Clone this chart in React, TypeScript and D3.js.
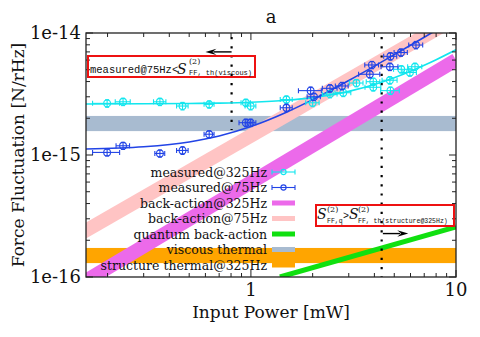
import React from 'react'
import * as d3 from 'd3'

const W = 480
const H = 337
const plot = { left: 86, right: 456, top: 33, bottom: 277 }

// measured @ 75 Hz (blue)
const power75 = [0.199, 0.238, 0.36, 0.464, 0.626, 0.945, 0.997, 1.49, 1.955, 2.03, 2.43, 2.78, 3.8, 3.89, 4.76, 4.79, 5.39, 6.38]
const force75 = [1.05e-15, 1.19e-15, 1.03e-15, 1.09e-15, 1.48e-15, 1.84e-15, 1.84e-15, 2.44e-15, 3.37e-15, 3.0e-15, 3.52e-15, 3.68e-15, 4.59e-15, 5.47e-15, 5.29e-15, 6.44e-15, 6.92e-15, 7.97e-15]
const powerErr75 = [0.03, 0.018, 0.02, 0.03, 0.035, 0.07, 0.06, 0.1, 0.25, 0.15, 0.2, 0.2, 0.45, 0.3, 0.45, 0.35, 0.4, 0.5]
const forceErr75 = [0.07e-15, 0.08e-15, 0.07e-15, 0.08e-15, 0.1e-15, 0.13e-15, 0.13e-15, 0.17e-15, 0.24e-15, 0.21e-15, 0.25e-15, 0.26e-15, 0.32e-15, 0.38e-15, 0.37e-15, 0.45e-15, 0.48e-15, 0.56e-15]

// measured @ 325 Hz (cyan)
const power325 = [0.199, 0.238, 0.36, 0.464, 0.626, 0.945, 0.997, 1.49, 2.0, 2.43, 2.82, 3.27, 3.95, 3.95, 4.76, 4.79, 5.41, 5.96, 6.31]
const force325 = [2.65e-15, 2.73e-15, 2.73e-15, 2.52e-15, 2.6e-15, 2.68e-15, 2.52e-15, 2.85e-15, 2.68e-15, 3.16e-15, 3.24e-15, 3.89e-15, 3.99e-15, 3.59e-15, 4.1e-15, 3.37e-15, 5.04e-15, 4.75e-15, 5.29e-15]
const powerErr325 = [0.03, 0.02, 0.025, 0.03, 0.035, 0.05, 0.06, 0.1, 0.15, 0.2, 0.25, 0.25, 0.3, 0.35, 0.4, 0.5, 0.45, 0.45, 0.5]
const forceErr325 = [0.19e-15, 0.19e-15, 0.19e-15, 0.18e-15, 0.18e-15, 0.19e-15, 0.18e-15, 0.2e-15, 0.19e-15, 0.22e-15, 0.23e-15, 0.27e-15, 0.28e-15, 0.25e-15, 0.29e-15, 0.24e-15, 0.35e-15, 0.33e-15, 0.37e-15]

// fitted curves
const fitPower = [0.157, 0.3, 0.5, 0.7, 1, 1.5, 2, 3, 4, 5, 6, 7, 8, 10]
const fit325 = [2.622e-15, 2.628e-15, 2.642e-15, 2.663e-15, 2.707e-15, 2.811e-15, 2.952e-15, 3.321e-15, 3.777e-15, 4.292e-15, 4.849e-15, 5.434e-15, 6.038e-15, 7.287e-15]
const fit75 = [1.119e-15, 1.168e-15, 1.28e-15, 1.432e-15, 1.711e-15, 2.252e-15, 2.842e-15, 4.081e-15, 5.354e-15, 6.642e-15, 7.937e-15, 9.236e-15, 10.54e-15, 13.15e-15]

// model lines and bands
const backActionPower = [0.15, 10]
const backAction325 = [0.89e-16, 6.0e-15]
const backAction75 = [2.3e-16, 1.33e-14]
const quantumPower = [1.385, 10]
const quantumBA = [1.0e-16, 2.57e-16]
const viscousBand = [1.57e-15, 2.09e-15]
const structureBand = [1.3e-16, 1.73e-16]

// threshold markers
const thresholdPower = [0.805, 4.34]
const thresholdTop = [1e-14, 1e-14]
const thresholdBottom = [1.6e-15, 1e-16]
const arrowFrom = [0.805, 4.4]
const arrowTo = [0.6, 5.85]
const arrowForce = [7.0e-15, 2.27e-16]

const xTickValues = [1, 10]
const xTickLabels = ['1', '10']
const yTickValues = [1e-16, 1e-15, 1e-14]
const yTickLabels = ['1e-16', '1e-15', '1e-14']

const legendLabels = ['measured@325Hz', 'measured@75Hz', 'back-action@325Hz', 'back-action@75Hz', 'quantum back-action', 'viscous thermal', 'structure thermal@325Hz']

const cyan = '#12e6ee'
const blue = '#2244e6'
const magenta = '#ec6aea'
const pink = '#ffc4c4'
const green = '#10e010'
const steel = '#a8bbd0'
const orange = '#ffa500'
const serif = { fontFamily: "'DejaVu Serif', 'Liberation Serif', serif" }
const mono = { fontFamily: "'Liberation Mono', 'DejaVu Sans Mono', monospace" }

const x = d3.scaleLog().domain([0.157, 10]).range([plot.left, plot.right])
const y = d3.scaleLog().domain([1e-16, 1e-14]).range([plot.bottom, plot.top])

const pathOf = (px: number[], py: number[], curve = d3.curveLinear) =>
  d3.line<number>().x((_, i) => x(px[i])).y((d) => y(d)).curve(curve)(py) || ''

function Measured({ px, py, ex, ey, color }: { px: number[]; py: number[]; ex: number[]; ey: number[]; color: string }) {
  return (
    <g stroke={color} fill="none" strokeWidth={1.1}>
      {px.map((p, i) => {
        const cx = x(p)
        const cy = y(py[i])
        const x0 = x(p - ex[i])
        const x1 = x(p + ex[i])
        const y0 = y(py[i] - ey[i])
        const y1 = y(py[i] + ey[i])
        return (
          <g key={i}>
            <line x1={x0} x2={x1} y1={cy} y2={cy} />
            <line x1={x0} x2={x0} y1={cy - 2.5} y2={cy + 2.5} />
            <line x1={x1} x2={x1} y1={cy - 2.5} y2={cy + 2.5} />
            <line x1={cx} x2={cx} y1={y0} y2={y1} />
            <line x1={cx - 2} x2={cx + 2} y1={y0} y2={y0} />
            <line x1={cx - 2} x2={cx + 2} y1={y1} y2={y1} />
            <circle cx={cx} cy={cy} r={3.4} />
          </g>
        )
      })}
    </g>
  )
}

export default function App() {
  const xMinor: number[] = []
  for (const d of [0.1, 1]) for (let k = 2; k <= 9; k++) if (d * k >= 0.157) xMinor.push(d * k)
  const yMinor: number[] = []
  for (const d of [1e-16, 1e-15]) for (let k = 2; k <= 9; k++) yMinor.push(d * k)

  const legendX = 267
  const swatch0 = 272
  const swatch1 = 295
  const legendTop = 172
  const legendStep = 15.5

  return (
    <div style={{ position: 'absolute', left: 0, top: 0 }}>
      <svg width={W} height={H} style={{ display: 'block', background: '#fff' }}>
        <defs>
          <clipPath id="plotClip">
            <rect x={plot.left} y={plot.top} width={plot.right - plot.left} height={plot.bottom - plot.top} />
          </clipPath>
        </defs>

        <g clipPath="url(#plotClip)">
          <rect x={plot.left} width={plot.right - plot.left} y={y(viscousBand[1])} height={y(viscousBand[0]) - y(viscousBand[1])} fill={steel} />
          <rect x={plot.left} width={plot.right - plot.left} y={y(structureBand[1])} height={y(structureBand[0]) - y(structureBand[1])} fill={orange} />
          <path d={pathOf(backActionPower, backAction75)} stroke={pink} strokeWidth={14} fill="none" />
          <path d={pathOf(backActionPower, backAction325)} stroke={magenta} strokeWidth={14} fill="none" />
          <path d={pathOf(quantumPower, quantumBA)} stroke={green} strokeWidth={5} fill="none" />
          {thresholdPower.map((p, i) => (
            <line key={i} x1={x(p)} x2={x(p)} y1={y(thresholdTop[i]) + 4} y2={y(thresholdBottom[i])} stroke="#000" strokeWidth={2.2} strokeDasharray="2.2 7" />
          ))}
          <path d={pathOf(fitPower, fit325, d3.curveMonotoneX)} stroke={cyan} strokeWidth={1.6} fill="none" />
          <path d={pathOf(fitPower, fit75, d3.curveMonotoneX)} stroke={blue} strokeWidth={1.6} fill="none" />
          <Measured px={power325} py={force325} ex={powerErr325} ey={forceErr325} color={cyan} />
          <Measured px={power75} py={force75} ex={powerErr75} ey={forceErr75} color={blue} />
        </g>

        {/* frame and ticks */}
        <rect x={plot.left} y={plot.top} width={plot.right - plot.left} height={plot.bottom - plot.top} fill="none" stroke="#222" strokeWidth={1.3} />
        <g stroke="#222" strokeWidth={1}>
          {xTickValues.map((v) => (
            <g key={v}>
              <line x1={x(v)} x2={x(v)} y1={plot.bottom} y2={plot.bottom - 7} />
              <line x1={x(v)} x2={x(v)} y1={plot.top} y2={plot.top + 7} />
            </g>
          ))}
          {xMinor.map((v) => (
            <g key={v}>
              <line x1={x(v)} x2={x(v)} y1={plot.bottom} y2={plot.bottom - 4} />
              <line x1={x(v)} x2={x(v)} y1={plot.top} y2={plot.top + 4} />
            </g>
          ))}
          {yTickValues.map((v) => (
            <g key={v}>
              <line x1={plot.left} x2={plot.left + 7} y1={y(v)} y2={y(v)} />
              <line x1={plot.right} x2={plot.right - 7} y1={y(v)} y2={y(v)} />
            </g>
          ))}
          {yMinor.map((v) => (
            <g key={v}>
              <line x1={plot.left} x2={plot.left + 4} y1={y(v)} y2={y(v)} />
              <line x1={plot.right} x2={plot.right - 4} y1={y(v)} y2={y(v)} />
            </g>
          ))}
        </g>

        <g style={serif} fontSize={18} fill="#111">
          {xTickValues.map((v, i) => (
            <text key={v} x={x(v)} y={296} textAnchor="middle">{xTickLabels[i]}</text>
          ))}
          {yTickValues.map((v, i) => (
            <text key={v} x={81} y={y(v) + 6} textAnchor="end">{yTickLabels[i]}</text>
          ))}
          <text x={271} y={23} textAnchor="middle">a</text>
          <text x={271} y={318} textAnchor="middle" fontSize={17}>Input Power [mW]</text>
          <text transform={`translate(24,155) rotate(-90)`} textAnchor="middle" fontSize={17}>Force Fluctuation [N/rHz]</text>
        </g>

        {/* legend */}
        <g style={serif} fontSize={12.5} fill="#111">
          {legendLabels.map((label, i) => {
            const ly = legendTop + i * legendStep
            const sw = [cyan, blue, magenta, pink, green, steel, orange][i]
            return (
              <g key={label}>
                <text x={legendX} y={ly + 4.5} textAnchor="end">{label}</text>
                {i < 2 ? (
                  <g stroke={sw} strokeWidth={1.1} fill="none">
                    <line x1={swatch0} x2={swatch1} y1={ly} y2={ly} />
                    <line x1={swatch0} x2={swatch0} y1={ly - 2.5} y2={ly + 2.5} />
                    <line x1={swatch1} x2={swatch1} y1={ly - 2.5} y2={ly + 2.5} />
                    <circle cx={(swatch0 + swatch1) / 2} cy={ly} r={2.6} />
                  </g>
                ) : (
                  <rect x={swatch0} width={swatch1 - swatch0} y={ly - 2.5} height={5} fill={sw} />
                )}
              </g>
            )
          })}
        </g>

        {/* arrows */}
        {arrowFrom.map((p, i) => {
          const xa = x(p)
          const xb = x(arrowTo[i])
          const ya = y(arrowForce[i])
          const dir = xb > xa ? 1 : -1
          return (
            <g key={i}>
              <line x1={xa} x2={xb - dir * 8} y1={ya} y2={ya} stroke="#000" strokeWidth={1.4} />
              <path d={`M${xb},${ya} L${xb - dir * 11},${ya - 3.2} L${xb - dir * 7},${ya} L${xb - dir * 11},${ya + 3.2} Z`} fill="#000" />
            </g>
          )
        })}

        {/* annotation boxes */}
        <rect x={88} y={56} width={167} height={21} fill="none" stroke="#ee1111" strokeWidth={2} />
        <g fill="#111">
          <text x={90} y={73} style={mono} fontSize={10.5}>measured@75Hz&lt;</text>
          <text x={177} y={74} style={serif} fontStyle="italic" fontSize={14}>S</text>
          <text x={189} y={64} style={serif} fontSize={8}>(2)</text>
          <text x={189} y={75} style={mono} fontSize={7}>FF, th(viscous)</text>
        </g>

        <rect x={316} y={205} width={138} height={21} fill="none" stroke="#ee1111" strokeWidth={2} />
        <g fill="#111">
          <text x={317} y={219} style={serif} fontStyle="italic" fontSize={14}>S</text>
          <text x={327} y={212} style={serif} fontSize={8}>(2)</text>
          <text x={327} y={223} style={mono} fontSize={6.5}>FF,q</text>
          <text x={343} y={219} style={mono} fontSize={10}>&gt;</text>
          <text x={349} y={219} style={serif} fontStyle="italic" fontSize={14}>S</text>
          <text x={358} y={212} style={serif} fontSize={8}>(2)</text>
          <text x={358} y={223} style={mono} fontSize={6.5}>FF, th(structure@325Hz)</text>
        </g>
      </svg>
    </div>
  )
}
